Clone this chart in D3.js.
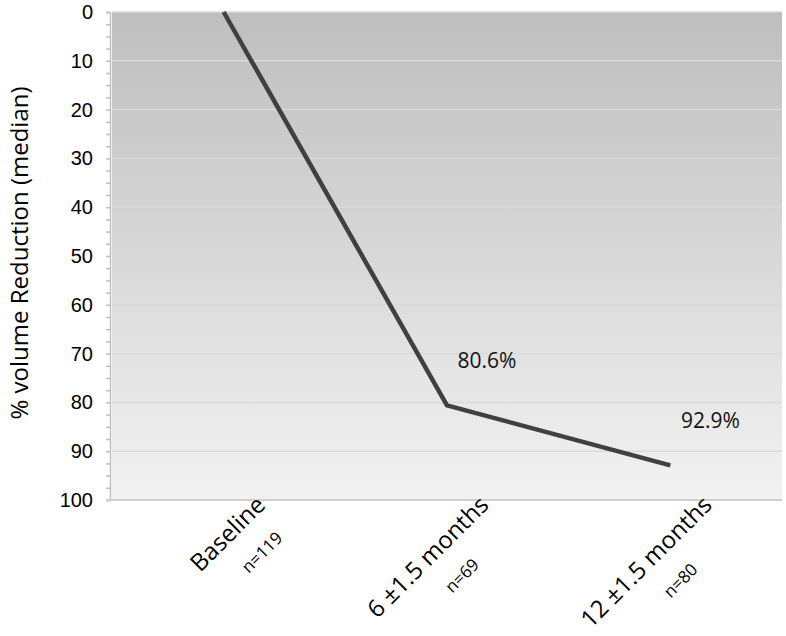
<!DOCTYPE html>
<html>
<head>
<meta charset="utf-8">
<script src="https://cdn.jsdelivr.net/npm/d3@7"></script>
<style>
  body { margin: 0; background: #fff; }
  svg { display: block; }
</style>
</head>
<body>
<div id="chart"></div>
<script>
// Données
const categories = ["Baseline", "6 \u00b11.5 months", "12 \u00b11.5 months"];
const sampleSizes = ["n=119", "n=69", "n=80"];
const reduction = [0, 80.6, 92.9];
const pointLabels = ["", "80.6%", "92.9%"];
const yTicks = [0, 10, 20, 30, 40, 50, 60, 70, 80, 90, 100];

// Dimensions
const W = 786, H = 636;
const margin = { top: 12, right: 4, bottom: 136, left: 112 };

const svg = d3.select("#chart").append("svg")
  .attr("width", W)
  .attr("height", H);

const x = d3.scalePoint()
  .domain(categories)
  .range([margin.left, W - margin.right])
  .padding(0.5);

const y = d3.scaleLinear()
  .domain([0, 100])
  .range([margin.top, H - margin.bottom]);

// Fond dégradé
const grad = svg.append("defs").append("linearGradient")
  .attr("id", "bg").attr("x1", 0).attr("y1", 0).attr("x2", 0).attr("y2", 1);
grad.append("stop").attr("offset", "0%").attr("stop-color", "#bebebe");
grad.append("stop").attr("offset", "100%").attr("stop-color", "#f2f2f2");

svg.append("rect")
  .attr("x", margin.left)
  .attr("y", y(0))
  .attr("width", W - margin.right - margin.left)
  .attr("height", y(100) - y(0))
  .attr("fill", "url(#bg)");

// Grille
svg.append("g")
  .selectAll("line")
  .data(yTicks.slice(0, -1))
  .join("line")
  .attr("x1", margin.left)
  .attr("x2", W - margin.right)
  .attr("y1", d => y(d))
  .attr("y2", d => y(d))
  .attr("stroke", "#d9d9d9")
  .attr("stroke-width", 1.5);

// Axe Y
const yAxis = svg.append("g")
  .attr("transform", `translate(${margin.left - 2},0)`)
  .call(d3.axisLeft(y).tickValues(d3.range(0, 100.1, 2.5)).tickSize(4).tickFormat(""));
yAxis.select(".domain").attr("stroke", "#bfbfbf").attr("stroke-width", 1.5);
yAxis.selectAll(".tick line").attr("stroke", "#bfbfbf").attr("stroke-width", 1.5);

svg.append("g")
  .selectAll("text")
  .data(yTicks)
  .join("text")
  .attr("x", 93)
  .attr("y", d => y(d))
  .attr("dy", "0.35em")
  .attr("text-anchor", "end")
  .attr("font-family", "Liberation Sans, Arial, sans-serif")
  .attr("font-size", 20)
  .attr("fill", "#000")
  .text(d => d);

// Axe X (ligne du bas)
svg.append("line")
  .attr("x1", margin.left - 6)
  .attr("x2", W - margin.right)
  .attr("y1", y(100))
  .attr("y2", y(100))
  .attr("stroke", "#cfcfcf")
  .attr("stroke-width", 2);

// Titre Y
svg.append("text")
  .attr("transform", `translate(28,${(y(0) + y(100)) / 2 - 3}) rotate(-90)`)
  .attr("text-anchor", "middle")
  .attr("font-family", "Open Sans, sans-serif")
  .attr("font-size", 24)
  .attr("fill", "#000")
  .text("% volume Reduction (median)");

// Ligne
const line = d3.line()
  .x((d, i) => x(categories[i]))
  .y(d => y(d));

svg.append("path")
  .datum(reduction)
  .attr("d", line)
  .attr("fill", "none")
  .attr("stroke", "#404040")
  .attr("stroke-width", 4.5)
  .attr("stroke-linejoin", "round");

// Étiquettes des points
svg.append("g")
  .selectAll("text")
  .data(reduction)
  .join("text")
  .attr("x", (d, i) => x(categories[i]) + 40)
  .attr("y", d => y(d) - 37)
  .attr("text-anchor", "middle")
  .attr("font-family", "Open Sans, sans-serif")
  .attr("font-size", 21)
  .attr("fill", "#111")
  .text((d, i) => pointLabels[i]);

// Étiquettes des catégories (rotation -45°)
categories.forEach((c, i) => {
  const g = svg.append("g")
    .attr("transform", `translate(${x(c)},${y(100)}) rotate(-45)`);
  const t1 = g.append("text")
    .attr("x", 26)
    .attr("y", 35)
    .attr("text-anchor", "end")
    .attr("font-family", "Open Sans, sans-serif")
    .attr("font-size", 24)
    .attr("fill", "#000")
    .text(c);
  const L1 = t1.node().getComputedTextLength();
  g.append("text")
    .attr("x", 26 - L1 / 2 + 11)
    .attr("y", 70)
    .attr("text-anchor", "middle")
    .attr("font-family", "Open Sans, sans-serif")
    .attr("font-size", 17)
    .attr("fill", "#000")
    .text(sampleSizes[i]);
});
</script>
</body>
</html>
